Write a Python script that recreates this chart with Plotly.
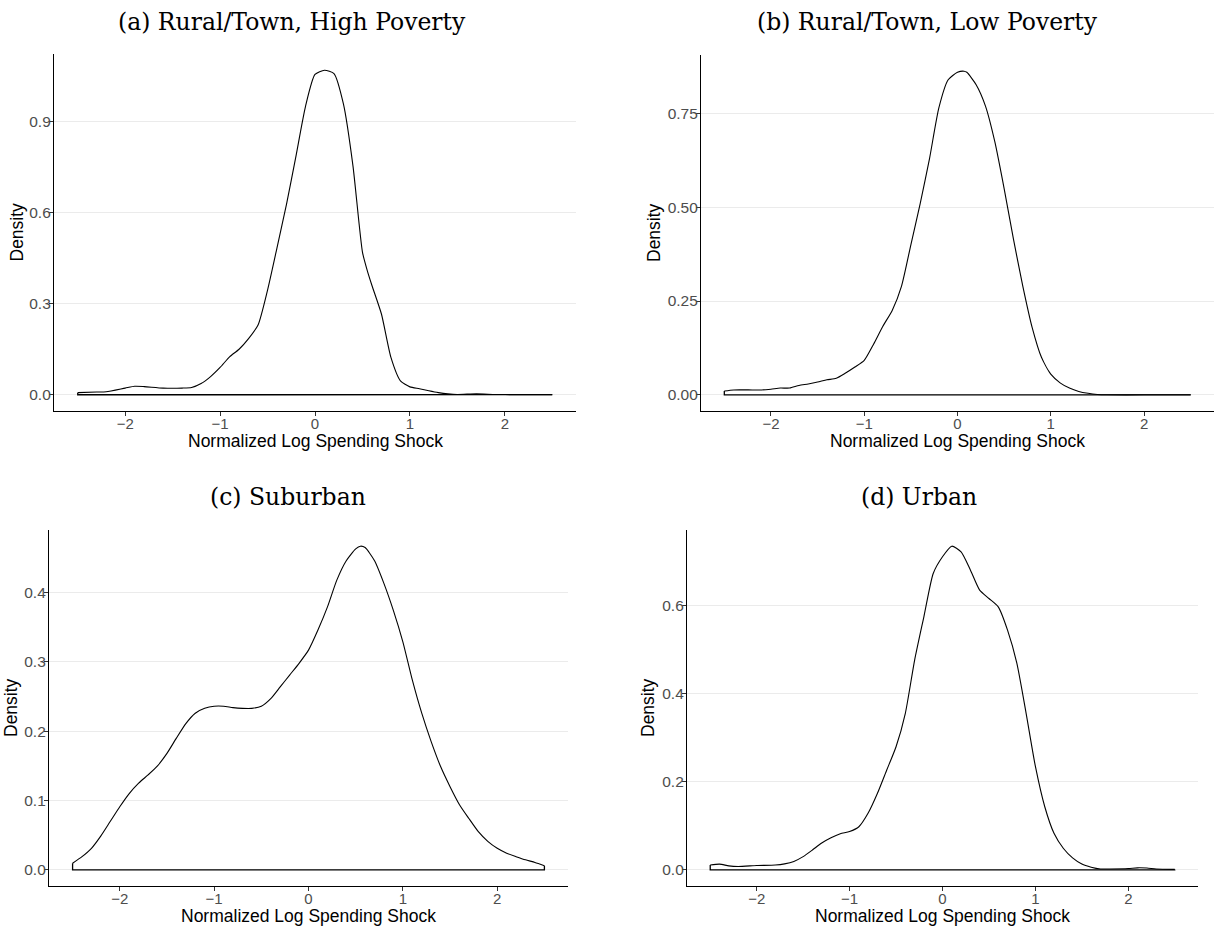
import plotly.graph_objects as go

# ---------------- data ----------------
x_a = [-2.5, -2.3, -2.2, -2.0, -1.9, -1.8, -1.6, -1.4, -1.3, -1.2, -1.1, -1.0, -0.9, -0.8, -0.7,
       -0.6, -0.5, -0.4, -0.3, -0.2, -0.1, 0.0, 0.1, 0.2, 0.3, 0.4, 0.5, 0.55, 0.6, 0.7, 0.8, 0.9,
       1.0, 1.1, 1.2, 1.3, 1.4, 1.5, 1.7, 1.9, 2.1, 2.5]
y_a = [0.007, 0.009, 0.010, 0.022, 0.028, 0.027, 0.022, 0.022, 0.024, 0.037, 0.060, 0.090, 0.125,
       0.150, 0.185, 0.230, 0.345, 0.485, 0.628, 0.787, 0.950, 1.055, 1.069, 1.058, 0.957, 0.754,
       0.470, 0.410, 0.360, 0.266, 0.123, 0.046, 0.026, 0.020, 0.013, 0.007, 0.003, 0.001, 0.003,
       0.001, 0.0005, 0.0003]

x_b = [-2.5, -2.4, -2.2, -2.1, -2.0, -1.9, -1.8, -1.7, -1.6, -1.5, -1.4, -1.3, -1.2, -1.1, -1.0,
       -0.9, -0.8, -0.7, -0.6, -0.5, -0.4, -0.3, -0.2, -0.1, 0.0, 0.07, 0.1, 0.2, 0.3, 0.4, 0.5,
       0.6, 0.7, 0.8, 0.9, 1.0, 1.1, 1.2, 1.3, 1.4, 1.5, 1.6, 2.0, 2.5]
y_b = [0.010, 0.013, 0.013, 0.013, 0.015, 0.018, 0.018, 0.025, 0.029, 0.034, 0.040, 0.044, 0.058,
       0.074, 0.092, 0.135, 0.183, 0.225, 0.290, 0.400, 0.510, 0.630, 0.765, 0.840, 0.860, 0.863,
       0.860, 0.827, 0.770, 0.675, 0.550, 0.415, 0.290, 0.180, 0.100, 0.055, 0.032, 0.018, 0.009,
       0.004, 0.001, 0.0, 0.0, 0.0]

x_c = [-2.5, -2.4, -2.3, -2.2, -2.1, -2.0, -1.9, -1.8, -1.7, -1.6, -1.5, -1.4, -1.3, -1.2, -1.1,
       -1.0, -0.9, -0.8, -0.7, -0.6, -0.5, -0.4, -0.3, -0.2, -0.1, 0.0, 0.1, 0.2, 0.3, 0.4, 0.5,
       0.55, 0.6, 0.7, 0.8, 0.9, 1.0, 1.1, 1.2, 1.3, 1.4, 1.5, 1.6, 1.7, 1.8, 1.9, 2.0, 2.1, 2.2,
       2.3, 2.4, 2.5]
y_c = [0.0096, 0.019, 0.031, 0.049, 0.070, 0.091, 0.110, 0.125, 0.137, 0.150, 0.168, 0.190, 0.211,
       0.226, 0.233, 0.236, 0.236, 0.234, 0.233, 0.233, 0.236, 0.247, 0.264, 0.281, 0.298, 0.317,
       0.346, 0.379, 0.418, 0.446, 0.463, 0.467, 0.465, 0.446, 0.413, 0.374, 0.329, 0.274, 0.226,
       0.185, 0.149, 0.120, 0.094, 0.074, 0.055, 0.041, 0.031, 0.024, 0.019, 0.0144, 0.0106, 0.006]

x_d = [-2.5, -2.4, -2.3, -2.2, -2.0, -1.8, -1.7, -1.6, -1.5, -1.4, -1.3, -1.2, -1.1, -1.0, -0.9,
       -0.8, -0.7, -0.6, -0.5, -0.4, -0.3, -0.2, -0.1, 0.0, 0.1, 0.2, 0.3, 0.4, 0.5, 0.6, 0.7, 0.8,
       0.9, 1.0, 1.1, 1.2, 1.3, 1.4, 1.5, 1.6, 1.7, 1.8, 2.0, 2.1, 2.2, 2.3, 2.5]
y_d = [0.011, 0.013, 0.009, 0.0076, 0.0098, 0.011, 0.0136, 0.019, 0.030, 0.045, 0.061, 0.073, 0.082,
       0.087, 0.098, 0.129, 0.174, 0.227, 0.280, 0.356, 0.477, 0.576, 0.674, 0.712, 0.736, 0.723,
       0.682, 0.636, 0.617, 0.598, 0.545, 0.470, 0.356, 0.235, 0.144, 0.083, 0.049, 0.027, 0.013,
       0.006, 0.002, 0.002, 0.003, 0.0045, 0.004, 0.002, 0.001]

titles = ["(a) Rural/Town, High Poverty", "(b) Rural/Town, Low Poverty", "(c) Suburban", "(d) Urban"]
x_ticks = [-2, -1, 0, 1, 2]
x_ticktext = ["\u22122", "\u22121", "0", "1", "2"]
y_ticks = [[0, 0.3, 0.6, 0.9], [0, 0.25, 0.5, 0.75], [0, 0.1, 0.2, 0.3, 0.4], [0, 0.2, 0.4, 0.6]]
y_ticktext = [["0.0", "0.3", "0.6", "0.9"], ["0.00", "0.25", "0.50", "0.75"],
              ["0.0", "0.1", "0.2", "0.3", "0.4"], ["0.0", "0.2", "0.4", "0.6"]]
x_label = "Normalized Log Spending Shock"
y_label = "Density"

# ---------------- layout geometry (pixels) ----------------
W, H = 1215, 930
panels = [  # left, right, top, bottom of plotting panel
    (54, 576, 54, 411),
    (701, 1214, 55, 411),
    (49, 568, 530, 886),
    (687, 1198, 530, 886),
]
title_pos = [(292, 22), (927, 22), (288, 497), (919, 497)]
ytitle_x = [16, 654, 11, 648]

series = [(x_a, y_a), (x_b, y_b), (x_c, y_c), (x_d, y_d)]

fig = go.Figure()
layout = dict(
    width=W, height=H, margin=dict(l=0, r=0, t=0, b=0),
    paper_bgcolor="white", plot_bgcolor="white", showlegend=False,
    font=dict(family="Liberation Sans, Arial, sans-serif", color="#4D4D4D"),
)
annotations = []

for i, ((xs, ys), (l, r, t, b)) in enumerate(zip(series, panels)):
    sfx = "" if i == 0 else str(i + 1)
    xa, ya = "x" + sfx, "y" + sfx
    # density curve
    fig.add_trace(go.Scatter(x=xs, y=ys, mode="lines", xaxis=xa, yaxis=ya,
                             line=dict(color="black", width=1.1, shape="spline", smoothing=0.6),
                             hoverinfo="skip"))
    # closing of the density polygon (ends down to zero and baseline)
    fig.add_trace(go.Scatter(x=[xs[-1], xs[-1], xs[0], xs[0]], y=[ys[-1], 0, 0, ys[0]],
                             mode="lines", xaxis=xa, yaxis=ya,
                             line=dict(color="black", width=1.3), hoverinfo="skip"))
    ymax = max(ys)
    layout["xaxis" + sfx] = dict(
        domain=[l / W, r / W], anchor=ya, range=[-2.75, 2.75],
        tickmode="array", tickvals=x_ticks, ticktext=x_ticktext,
        showgrid=False, zeroline=False, showline=True, linecolor="black", linewidth=1.2,
        ticks="outside", ticklen=4, tickcolor="#333333", tickwidth=1,
        ticklabelstandoff=-5,
        tickfont=dict(size=15, color="#4D4D4D"),
    )
    layout["yaxis" + sfx] = dict(
        domain=[1 - b / H, 1 - t / H], anchor=xa, range=[-0.05 * ymax, 1.05 * ymax],
        tickmode="array", tickvals=y_ticks[i], ticktext=y_ticktext[i],
        showgrid=True, gridcolor="#EBEBEB", gridwidth=1, zeroline=False,
        showline=True, linecolor="black", linewidth=1.2,
        ticks="outside", ticklen=4, tickcolor="#333333", tickwidth=1,
        ticklabelstandoff=-5,
        tickfont=dict(size=15.5, color="#4D4D4D"),
    )
    # panel title
    tx, ty = title_pos[i]
    annotations.append(dict(text=titles[i], x=tx / W, y=1 - ty / H, xref="paper", yref="paper",
                            showarrow=False, xanchor="center", yanchor="middle",
                            font=dict(family="DejaVu Serif, serif", size=23.5,
                                      color="black")))
    # x axis title
    annotations.append(dict(text=x_label, x=(l + r) / 2 / W, y=1 - (b + 30) / H,
                            xref="paper", yref="paper", showarrow=False,
                            xanchor="center", yanchor="middle",
                            font=dict(size=17.5, color="black")))
    # y axis title
    annotations.append(dict(text=y_label, x=ytitle_x[i] / W, y=1 - ((t + b) / 2) / H,
                            xref="paper", yref="paper", showarrow=False, textangle=-90,
                            xanchor="center", yanchor="middle",
                            font=dict(size=17.5, color="black")))

layout["annotations"] = annotations
fig.update_layout(**layout)
fig.write_html("out.html", config={"displayModeBar": False},
               post_script="document.body.style.margin='0';document.body.style.overflow='hidden';")
